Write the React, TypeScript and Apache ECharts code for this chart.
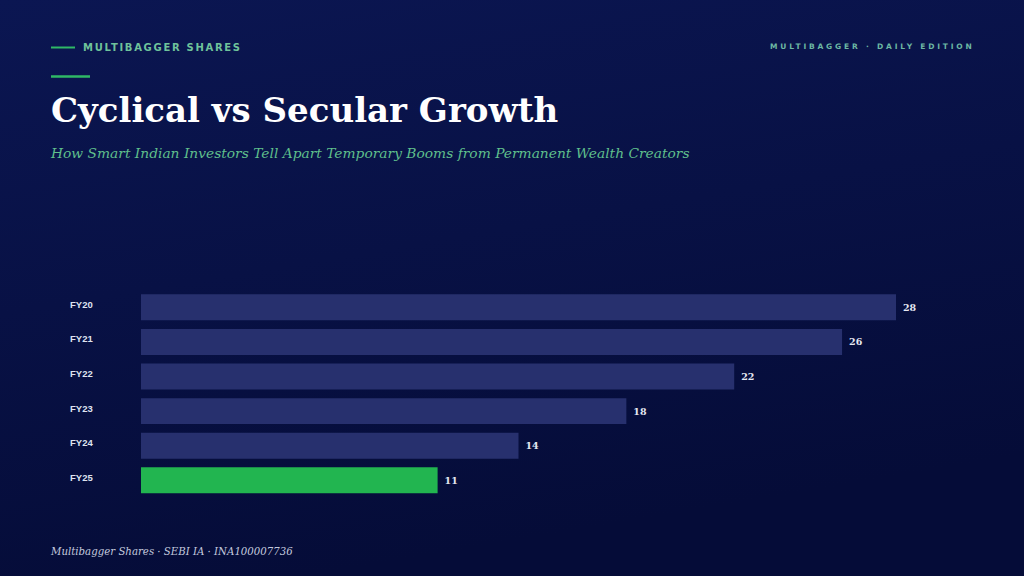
import React, { useEffect, useRef } from "react";
import * as echarts from "echarts";

const categories = ["FY20", "FY21", "FY22", "FY23", "FY24", "FY25"];
const values = [28, 26, 22, 18, 14, 11];
const highlightIndex = 5;

const kickerText = "MULTIBAGGER SHARES";
const editionText = "MULTIBAGGER · DAILY EDITION";

export default function App() {
  const ref = useRef<HTMLDivElement>(null);
  useEffect(() => {
    document.body.style.margin = "0";
    const chart = echarts.init(ref.current!, undefined, { renderer: "svg" });
    chart.setOption({
      animation: false,
      backgroundColor: {
        type: "linear",
        x: 0,
        y: 0,
        x2: 0.3,
        y2: 1,
        colorStops: [
          { offset: 0, color: "#0b1652" },
          { offset: 1, color: "#050c38" },
        ],
      },
      grid: { left: 141, width: 755, top: 290, height: 207.6, containLabel: false },
      xAxis: {
        type: "value",
        min: 0,
        max: 28,
        show: false,
      },
      yAxis: {
        type: "category",
        data: categories,
        inverse: true,
        axisLine: { show: false },
        axisTick: { show: false },
        splitLine: { show: false },
        axisLabel: {
          align: "left",
          verticalAlign: "bottom",
          lineHeight: 6,
          margin: 71,
          color: "#dfe3f0",
          fontFamily: "Liberation Sans, Arial, sans-serif",
          fontWeight: "bold",
          fontSize: 9.5,
        },
      },
      series: [
        {
          type: "bar",
          barCategoryGap: "25%",
          data: values.map((v, i) => ({
            value: v,
            itemStyle: { color: i === highlightIndex ? "#22b550" : "#27306e" },
          })),
          label: {
            show: true,
            position: "right",
            distance: 7,
            color: "#e4e7f2",
            fontFamily: "DejaVu Serif, Georgia, serif",
            fontWeight: "bold",
            fontSize: 9.5,
          },
        },
      ],
      graphic: [
        { type: "line", shape: { x1: 51, y1: 47.5, x2: 75, y2: 47.5 }, style: { stroke: "#2fb866", lineWidth: 2 } },
        {
          type: "text",
          x: 83,
          y: 47,
          style: {
            text: kickerText,
            fill: "#6fc39b",
            font: "bold 10px 'DejaVu Sans', sans-serif",
            textVerticalAlign: "middle",
          },
        },
        { type: "line", shape: { x1: 51, y1: 76.5, x2: 90, y2: 76.5 }, style: { stroke: "#2fb866", lineWidth: 2.5 } },
        {
          type: "text",
          x: 770,
          y: 46,
          style: {
            text: editionText,
            fill: "#6cb8a3",
            font: "bold 7.5px 'DejaVu Sans', sans-serif",
            textVerticalAlign: "middle",
          },
        },
        {
          type: "text",
          x: 51,
          y: 127,
          style: {
            text: "Cyclical vs Secular Growth",
            fill: "#ffffff",
            font: "bold 34px 'DejaVu Serif', Georgia, serif",
            textVerticalAlign: "bottom",
          },
        },
        {
          type: "text",
          x: 51,
          y: 153,
          style: {
            text: "How Smart Indian Investors Tell Apart Temporary Booms from Permanent Wealth Creators",
            fill: "#5fbf8c",
            font: "italic 13.8px 'DejaVu Serif', Georgia, serif",
            textVerticalAlign: "middle",
          },
        },
        {
          type: "text",
          x: 51,
          y: 551,
          style: {
            text: "Multibagger Shares · SEBI IA · INA100007736",
            fill: "#c3c9de",
            font: "italic 10.2px 'DejaVu Serif', Georgia, serif",
            textVerticalAlign: "middle",
          },
        },
      ],
    });
    const spacing: Record<string, string> = { [kickerText]: "1.7px", [editionText]: "2.8px" };
    ref.current!.querySelectorAll("text").forEach((t) => {
      const s = spacing[t.textContent || ""];
      if (s) t.setAttribute("letter-spacing", s);
    });
    return () => chart.dispose();
  }, []);
  return <div ref={ref} style={{ width: 1024, height: 576 }} />;
}
